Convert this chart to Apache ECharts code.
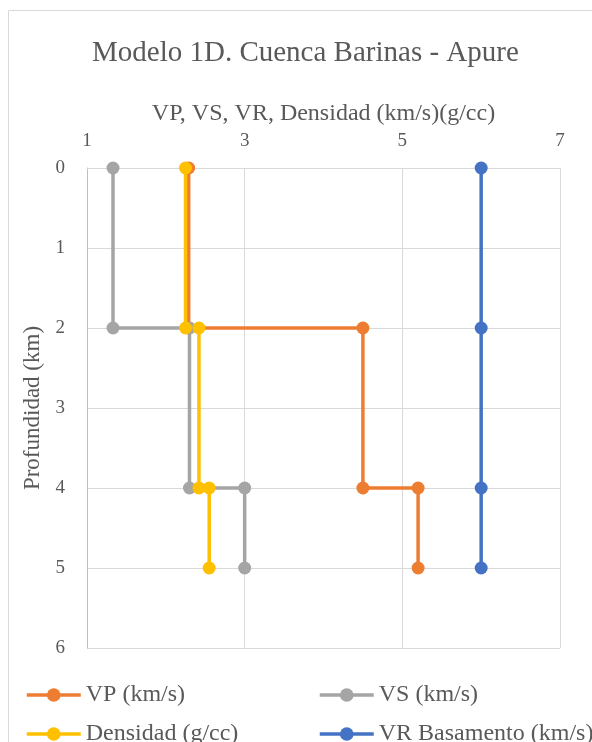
<!DOCTYPE html>
<html>
<head>
<meta charset="utf-8">
<script src="https://cdn.jsdelivr.net/npm/echarts@6/dist/echarts.min.js"></script>
<style>
  html, body { margin: 0; padding: 0; background: #fff; }
  #chart { width: 592px; height: 742px; }
</style>
</head>
<body>
<div id="chart"></div>
<script>
// Velocity / density layers against depth (km)
const depthVP   = [0, 2, 2, 4, 4, 5];
const valuesVP  = [2.29, 2.29, 4.5, 4.5, 5.2, 5.2];

const depthVS   = [0, 2, 2, 4, 4, 5];
const valuesVS  = [1.33, 1.33, 2.3, 2.3, 3.0, 3.0];

const depthRho  = [0, 2, 2, 4, 4, 5];
const valuesRho = [2.25, 2.25, 2.42, 2.42, 2.55, 2.55];

const depthVR   = [0, 2, 4, 5];
const valuesVR  = [6.0, 6.0, 6.0, 6.0];

const seriesNames = ['VP (km/s)', 'VS (km/s)', 'Densidad (g/cc)', 'VR Basamento (km/s)'];
const seriesColors = ['#ED7D31', '#A5A5A5', '#FFC000', '#4472C4'];

const titleText = 'Modelo 1D. Cuenca Barinas - Apure';
const xAxisName = 'VP, VS, VR, Densidad (km/s)(g/cc)';
const yAxisName = 'Profundidad (km)';

const FONT = '"Liberation Serif", "Times New Roman", serif';
const TEXT = '#595959';

function pairs(xs, ys) { return xs.map((x, i) => [x, ys[i]]); }

function lineSeries(name, color, xs, ys) {
  return {
    name: name,
    type: 'line',
    data: pairs(xs, ys),
    symbol: 'circle',
    symbolSize: 13,
    lineStyle: { color: color, width: 3.5 },
    itemStyle: { color: color },
    emphasis: { disabled: true },
    animation: false
  };
}

// one legend box per entry so the two columns line up
function legendEntry(name, left, top) {
  return {
    data: [name],
    left: left,
    top: top,
    padding: 0,
    itemWidth: 54,
    itemHeight: 17,
    lineStyle: { width: 3.5 },
    textStyle: { fontFamily: FONT, fontSize: 24, color: TEXT, lineHeight: 26 }
  };
}

const chart = echarts.init(document.getElementById('chart'));

chart.setOption({
  backgroundColor: '#fff',
  animation: false,
  graphic: [{
    type: 'rect',
    shape: { x: 8.5, y: 10.5, width: 700, height: 800 },
    style: { fill: 'none', stroke: '#d9d9d9', lineWidth: 1 },
    silent: true
  }],
  title: {
    text: titleText,
    left: 92,
    top: 39,
    padding: 0,
    textStyle: { fontFamily: FONT, fontSize: 29, fontWeight: 'normal', color: TEXT }
  },
  legend: [
    legendEntry(seriesNames[0], 25, 682),
    legendEntry(seriesNames[1], 318, 682),
    legendEntry(seriesNames[2], 25, 721),
    legendEntry(seriesNames[3], 318, 721)
  ],
  grid: { left: 87, right: 32, top: 168, bottom: 94 },
  xAxis: {
    type: 'value',
    position: 'top',
    min: 1, max: 7, interval: 2,
    name: xAxisName,
    nameLocation: 'middle',
    nameGap: 42,
    nameTextStyle: { fontFamily: FONT, fontSize: 24, color: TEXT },
    axisLine: { show: true, lineStyle: { color: '#d9d9d9' } },
    axisTick: { show: false },
    axisLabel: { fontFamily: FONT, fontSize: 19, color: TEXT, margin: 17 },
    splitLine: { show: true, lineStyle: { color: '#d9d9d9', width: 1 } }
  },
  yAxis: {
    type: 'value',
    inverse: true,
    min: 0, max: 6, interval: 1,
    name: yAxisName,
    nameLocation: 'middle',
    nameGap: 42,
    nameTextStyle: { fontFamily: FONT, fontSize: 23, color: TEXT },
    axisLine: { show: true, lineStyle: { color: '#bfbfbf' } },
    axisTick: { show: false },
    axisLabel: { fontFamily: FONT, fontSize: 19, color: TEXT, margin: 22 },
    splitLine: { show: true, lineStyle: { color: '#d9d9d9', width: 1 } }
  },
  series: [
    lineSeries(seriesNames[0], seriesColors[0], valuesVP, depthVP),
    lineSeries(seriesNames[1], seriesColors[1], valuesVS, depthVS),
    lineSeries(seriesNames[2], seriesColors[2], valuesRho, depthRho),
    lineSeries(seriesNames[3], seriesColors[3], valuesVR, depthVR)
  ]
});
</script>
</body>
</html>
